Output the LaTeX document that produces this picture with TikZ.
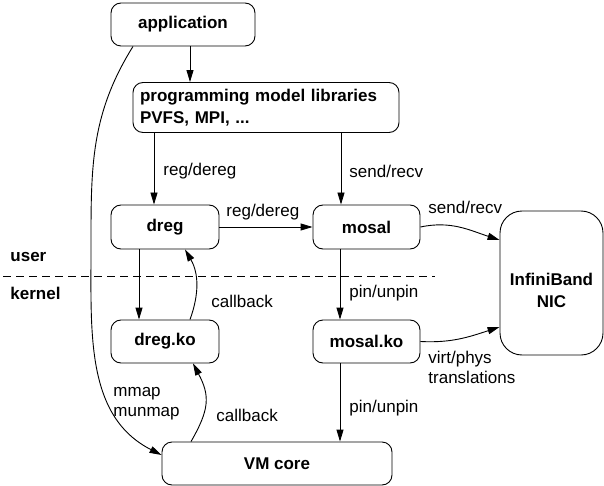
\documentclass[tikz,border=0pt]{standalone}
\usepackage{fontspec}
\setmainfont{Liberation Sans}
\usetikzlibrary{arrows.meta,calc}
\begin{document}
\begin{tikzpicture}[x=1pt,y=1pt,
  font=\fontsize{17}{20}\selectfont, line width=0.9pt,
  box/.style={draw, rounded corners=10pt, font=\fontsize{17}{22}\selectfont\bfseries, inner sep=0pt},
  arr/.style={-{Triangle[length=12pt,width=7pt]}},
  lab/.style={anchor=west, inner sep=0pt, align=left, font=\fontsize{17}{20}\selectfont},
  side/.style={anchor=west, inner sep=0pt, font=\fontsize{17}{20}\selectfont\bfseries}]
\useasboundingbox (0,0) rectangle (604,-486);

% boxes
\node[box, minimum width=144pt, minimum height=43pt] (app) at (183,-24.5) {application};
\node[box, minimum width=266pt, minimum height=50pt, align=left, text width=252pt] (prog) at (266,-107.5) {programming model libraries\\PVFS, MPI, ...};
\node[box, minimum width=108pt, minimum height=44pt] (dreg) at (165,-227) {dreg};
\node[box, minimum width=107pt, minimum height=44pt] (mosal) at (366.5,-227) {mosal};
\node[box, rounded corners=22pt, minimum width=103pt, minimum height=144pt] (ib) at (551.5,-283) {};
\node[inner sep=0pt, align=center, font=\fontsize{17}{22}\selectfont\bfseries] (ibt) at (551.5,-290) {InfiniBand\\NIC};
\node[box, minimum width=108pt, minimum height=43pt] (dregko) at (165,-341.5) {dreg.ko};
\node[box, minimum width=107pt, minimum height=43pt] (mosalko) at (366.5,-341.5) {mosal.ko};
\node[box, minimum width=230pt, minimum height=43pt] (vm) at (277,-463.5) {VM core};

% helper coordinates
\coordinate (c1) at ($(app.south)+(7,0)$);
\coordinate (c2) at ($(dreg.north)+(-11,0)$);
\coordinate (c3) at ($(mosal.north)+(-25.5,0)$);
\coordinate (c4) at ($(dreg.south)+(-26,0)$);
\coordinate (c5) at ($(dregko.north)+(25,0)$);
\coordinate (c6) at ($(dreg.south)+(20,0)$);
\coordinate (c7) at ($(mosal.south)+(-26.5,0)$);
\coordinate (c8) at ($(vm.north)+(-86,0)$);
\coordinate (c9) at ($(dregko.south)+(28,0)$);
\coordinate (c10) at ($(ib.west)+(0,-44)$);
\coordinate (c11) at ($(ib.west)+(0,43)$);
\coordinate (c12) at ($(vm.west)+(0,8.5)$);
\coordinate (c13) at ($(app.south)+(-50,0)$);
\coordinate (c14) at (91,-250);
\coordinate (d1) at (3,-276);
\coordinate (d2) at (435,-276);

% connectors
\draw[arr] (c1) -- (c1 |- prog.north);
\draw[arr] (c2 |- prog.south) -- (c2);
\draw[arr] (c3 |- prog.south) -- (c3);
\draw[arr] (dreg) -- (mosal);
\draw[arr] (mosal.east) to[out=12,in=162] (c11);
\draw[arr] (c4) -- (c4 |- dregko.north);
\draw[arr] (c5) to[out=70,in=-60] (c6);
\draw[arr] (c7) -- (c7 |- mosalko.north);
\draw[arr] (mosalko.east) to[out=-3,in=198] (c10);
\draw[arr] (c7 |- mosalko.south) -- (c7 |- vm.north);
\draw[arr] (c8) to[out=60,in=-62,looseness=1.2] (c9);
\draw[arr] (c13) to[out=-122,in=90] (c14) to[out=-90,in=153] (c12);
\draw[line width=0.8pt, dash pattern=on 8pt off 5pt] (d1) -- (d2);

% labels
\node[lab] (l1) at (163,-171) {reg/dereg};
\node[lab] (l2) at (349,-171) {send/recv};
\node[lab] (l3) at (226,-212) {reg/dereg};
\node[lab] (l4) at (428,-207) {send/recv};
\node[lab] (l5) at (211,-301) {callback};
\node[lab] (l6) at (349,-293) {pin/unpin};
\node[lab] (l7) at (428,-367.5) {virt/phys\\translations};
\node[lab] (l8) at (349,-408) {pin/unpin};
\node[lab] (l9) at (216,-415) {callback};
\node[lab] (l10) at (113,-403.5) {mmap\\munmap};
\node[side] (u) at (10,-257) {user};
\node[side] (k) at (10,-293) {kernel};
\end{tikzpicture}
\end{document}
